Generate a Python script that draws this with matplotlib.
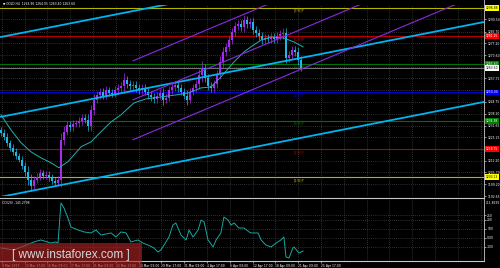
import matplotlib
matplotlib.use("Agg")
import matplotlib.pyplot as plt
from matplotlib.patches import Rectangle
from matplotlib.lines import Line2D
import numpy as np

# ---- price data (one bar ~ 3 px) ----
closes = [1227.6, 1225.4, 1222.1, 1219.3, 1217.1, 1214.9, 1212.7, 1209.4, 1206.0, 1201.6,
          1198.3, 1201.6, 1203.3, 1205.5, 1203.8, 1204.4, 1202.7, 1201.1, 1200.0, 1201.6,
          1223.7, 1228.2, 1232.0, 1230.9, 1232.6, 1233.1, 1234.2, 1235.9, 1234.8, 1231.5,
          1240.3, 1245.9, 1248.6, 1250.3, 1248.1, 1251.4, 1249.7, 1249.2, 1251.4, 1252.5,
          1253.6, 1256.9, 1254.7, 1253.6, 1254.2, 1252.5, 1251.4, 1252.5, 1250.3, 1248.6,
          1247.5, 1246.4, 1248.1, 1249.7, 1245.9, 1247.0, 1251.4, 1253.0, 1254.2, 1252.5,
          1250.3, 1248.1, 1245.9, 1250.3, 1252.5, 1254.7, 1259.7, 1263.6, 1258.0, 1253.6,
          1252.5, 1254.7, 1260.2, 1266.9, 1272.4, 1275.2, 1279.0, 1283.5, 1286.8, 1287.9,
          1286.2, 1290.1, 1287.9, 1289.0, 1284.6, 1282.9, 1281.25, 1279.0, 1280.1, 1279.6,
          1280.7, 1279.6, 1281.25, 1282.4, 1282.9, 1269.1, 1270.7, 1273.5, 1272.4, 1268.0,
          1263.6]
wicks = [2, 2, 2, 1.5, 2, 2, 1.5, 2, 2, 3,
         3, 2, 2, 2, 1.5, 2, 2, 2, 2, 2,
         4, 3, 2, 2, 2, 1.5, 2, 2, 2, 3,
         3, 3, 2, 2, 2, 2, 1.5, 2, 2, 2,
         2, 4, 2, 2, 2, 2, 2, 2, 2, 2,
         2, 2, 2, 2, 3, 2, 2, 2, 2, 2,
         2, 2, 3, 2, 2, 2, 3, 4, 2, 2,
         2, 2, 2, 3, 3, 2, 2, 2, 2, 2,
         2, 3, 2, 2, 2, 2, 2, 2, 2, 2,
         2, 2, 2, 2, 3, 3, 2, 2, 2, 3,
         2]

# moving average
ma_x = [0, 3.3, 6.7, 10, 13.3, 16.7, 19.3, 22.3, 26.7, 30, 33.3, 36.7, 40, 44.3, 48.3,
        53.3, 58.3, 62.3, 66.7, 70, 73.3, 77.7, 81, 83.3, 86.7, 90, 94.3, 97.7, 100.7]
ma_y = [1237.6, 1229.3, 1222.1, 1217.1, 1213.8, 1211.0, 1208.3, 1211.6, 1219.9, 1222.6,
        1228.2, 1233.7, 1237.6, 1244.2, 1246.4, 1247.5, 1248.6, 1249.7, 1252.5, 1253.0,
        1258.6, 1266.9, 1272.4, 1275.2, 1279.0, 1280.7, 1280.1, 1277.9, 1275.2]

# channels: (x0, y0, x1, y1) in bar / price units
blue_channel = [(0, 1280.7, 161, 1333.2), (0, 1236.5, 161, 1289.0), (0, 1192.2, 161, 1244.75)]
purple_channel = [(44, 1267.5, 161, 1349.0), (44, 1245.9, 161, 1327.4), (44, 1223.8, 161, 1305.3)]

# Murray levels
mm_levels = [1296.88, 1281.25, 1265.63, 1250.00, 1234.38, 1218.75, 1203.13]
mm_names = ["[7/8]P", "[6/8]P", "[5/8]P", "[4/8]P", "[3/8]P", "[2/8]P", "[1/8]P"]
mm_colors = ["#b4b400", "#b40000", "#007000", "#0000d0", "#007000", "#b40000", "#b4b400"]
mm_box = ["#ffff00", "#ff0000", "#008000", "#0000ff", "#008000", "#ff0000", "#ffff00"]
mm_txt = ["black", "white", "white", "white", "white", "white", "black"]
last_price = 1263.60

price_ticks = [1192.65, 1199.20, 1205.70, 1212.20, 1225.25, 1231.65, 1238.20,
               1244.75, 1257.75, 1270.60, 1277.20, 1283.70, 1290.50]

# CCI indicator
cci_x = [0, 4.3, 11, 13.3, 16.7, 18.3, 19, 20, 21, 22.3, 23.3, 25.7, 27.7, 30, 31.7, 33.3,
         36.7, 38.3, 40, 41.7, 43.3, 45.7, 47.3, 49, 51, 52.3, 53.3, 55, 56, 57.3, 58.3,
         60, 61.7, 62.7, 64, 65.7, 66.7, 67.7, 69, 70.7, 71.7, 73.3, 74.3, 75.7, 76.7,
         77.7, 79.3, 81, 82.7, 83.3, 85.7, 86.7, 88.3, 90, 91.7, 93.3, 94.3, 95, 96,
         97.3, 97.7, 99.3, 100.7]
cci_y = [-111, -133, -44, -22, -56, -44, -56, 389, 333, 222, 122, 89, 67, 56, 89, 33,
         56, 11, 67, 56, -44, -22, -56, -78, -111, -156, -133, -44, 11, 144, 167,
         33, -22, 89, 11, 89, 200, 178, -22, -100, -22, 56, 233, 200, 144,
         167, 111, 111, 67, 56, 56, -22, -78, -100, -56, -22, 11, -211, -222,
         -111, -100, -167, -145]
cci_ticks = [250, 200, 100, 0, -100]
cci_tick_labels = ["250", "200", "100", "0.00", "-100"]

time_labels = ["9 Mar 2017", "13 Mar 17:00", "16 Mar 09:00", "17 Mar 17:00", "21 Mar 09:00",
               "22 Mar 17:00", "24 Mar 09:00", "29 Mar 17:00", "31 Mar 09:00", "4 Apr 17:00",
               "6 Apr 09:00", "12 Apr 17:00", "18 Apr 09:00", "21 Apr 09:00", "25 Apr 17:00"]

W, H = 500, 268
FS = 2.2
fig = plt.figure(figsize=(5, 2.68), dpi=100, facecolor="black")
ax = fig.add_axes([0, (H - 196) / H, 484 / W, 191 / H], facecolor="black")
ax2 = fig.add_axes([0, 7.5 / H, 484 / W, 61.5 / H], facecolor="black")

grid_x = [0.3 + 7.6 * k for k in range(22)]
grid_kw = dict(color="#5a5a5a", lw=0.5, ls=(0, (1, 2)))

# ---- main panel ----
ax.set_xlim(-0.33, 161)
ax.set_ylim(1192.7, 1298.4)
for gx in grid_x:
    ax.axvline(gx, zorder=0, **grid_kw)
for gy in price_ticks + [1218.75, 1251.30, 1264.20]:
    ax.axhline(gy, zorder=0, **grid_kw)

for lvl, name, c in zip(mm_levels, mm_names, mm_colors):
    ax.axhline(lvl, color=c, lw=0.8, zorder=1)
    ax.text(97.5, lvl - 0.6, name, color=c, fontsize=2.6, va="top", ha="left", zorder=1)
ax.axhline(last_price, color="#8c8c8c", lw=0.6, zorder=1)

for x0, y0, x1, y1 in blue_channel:
    ax.plot([x0, x1], [y0, y1], color="#00b4f0", lw=1.3, zorder=4)
for x0, y0, x1, y1 in purple_channel:
    ax.plot([x0, x1], [y0, y1], color="#8a2be2", lw=0.8, zorder=4)

opens = [closes[0] + 1.5] + closes[:-1]
idx = np.arange(len(closes))
for i in idx:
    o, c = opens[i], closes[i]
    col = "#a82cf0" if c >= o else "#1cb8e8"
    ax.vlines(i, min(o, c) - wicks[i], max(o, c) + wicks[i], color=col, lw=0.5, zorder=2)
    ax.bar(i, max(abs(c - o), 0.4), bottom=min(o, c), width=0.55, color=col, zorder=3)

ax.plot(ma_x, ma_y, color="#20b2aa", lw=0.7, zorder=3)

ax.yaxis.tick_right()
ax.set_yticks(price_ticks)
ax.set_yticklabels([f"{t:.2f}" for t in price_ticks])
ax.tick_params(axis="y", colors="white", labelsize=FS, length=1.5, width=0.4, pad=0.8)
ax.set_xticks([])
for s in ax.spines.values():
    s.set_visible(False)

boxes = list(zip(mm_levels, mm_box, mm_txt)) + [(last_price, "white", "black")]
for lvl, bg, tc in boxes:
    ax.text(1.003, lvl, f"{lvl:.2f}", transform=ax.get_yaxis_transform(), fontsize=FS,
            color=tc, va="center", ha="left", zorder=6,
            bbox=dict(boxstyle="square,pad=0.3", fc=bg, ec="none"))

# ---- indicator panel ----
ax2.set_xlim(-0.33, 161)
ax2.set_ylim(-250, 433)
for gx in grid_x:
    ax2.axvline(gx, zorder=0, **grid_kw)
for gy in cci_ticks:
    ax2.axhline(gy, zorder=0, **grid_kw)
ax2.plot(cci_x, cci_y, color="#1aa6a0", lw=0.7, zorder=3)
ax2.yaxis.tick_right()
ax2.set_yticks(cci_ticks)
ax2.set_yticklabels(cci_tick_labels)
ax2.tick_params(axis="y", colors="white", labelsize=FS, length=1.5, width=0.4, pad=0.8)
ax2.set_xticks(grid_x[:len(time_labels)])
ax2.set_xticklabels(time_labels, ha="left")
ax2.tick_params(axis="x", colors="white", labelsize=FS, length=1.5, width=0.4, pad=1)
for s in ax2.spines.values():
    s.set_visible(False)
ax2.text(0.004, 0.97, "CCI(20) -145.2798", transform=ax2.transAxes, color="white",
         fontsize=FS, va="top", ha="left")
ax2.text(1.003, 0.97, "411.8695", transform=ax2.transAxes, color="white",
         fontsize=FS, va="top", ha="left")

# ---- frame lines ----
fig.add_artist(Line2D([0, 484 / W], [(H - 197.5) / H] * 2, color="#c8c8c8", lw=0.8))
fig.add_artist(Line2D([0, 484 / W], [7.5 / H] * 2, color="#c8c8c8", lw=0.8))
fig.add_artist(Line2D([484 / W] * 2, [7.5 / H, 1], color="#c8c8c8", lw=0.6))

fig.text(3 / W, 1 - 4 / H, "\u25bc GOLD,H4  1263.96 1264.05 1263.40 1263.60", color="white",
         fontsize=FS, va="center", ha="left")

# ---- watermark ----
fig.add_artist(Rectangle((0, 0), 142 / W, 25 / H, transform=fig.transFigure,
                         fc="#b22222", ec="none", alpha=0.62, zorder=10))
fig.text(71 / W, 13 / H, "[ www.instaforex.com ]", color="#d8d8d8", fontsize=8.5,
         family="Liberation Sans", ha="center", va="center", zorder=11)

fig.savefig("out.png", dpi=100, facecolor="black")
